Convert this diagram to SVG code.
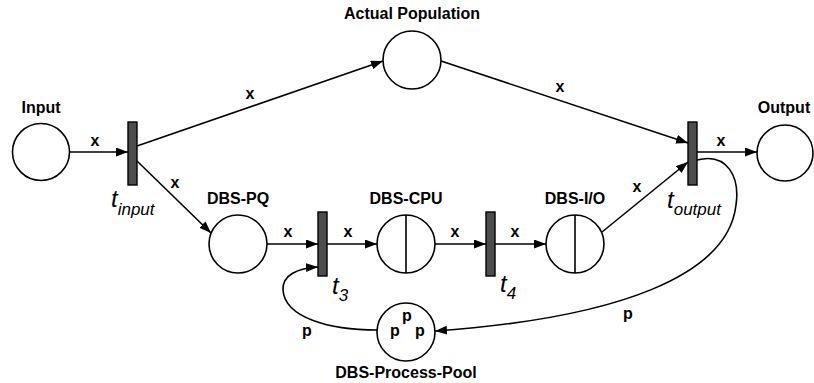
<svg xmlns="http://www.w3.org/2000/svg" width="814" height="383" viewBox="0 0 814 383">
  <style>
    .place { fill: #ffffff; stroke: #000000; stroke-width: 1.6; }
    .split { stroke: #000000; stroke-width: 1.6; }
    .trans { fill: #4d4d4d; stroke: #000000; stroke-width: 1.4; }
    .arc { fill: none; stroke: #000000; stroke-width: 1.6; marker-end: url(#head); }
    .name, .lbl, .tok { font-family: "Liberation Sans", Arial, sans-serif; font-weight: bold; font-size: 16px; text-anchor: middle; fill: #000000; }
    .tl { font-family: "Liberation Sans", Arial, sans-serif; font-style: italic; font-size: 24px; fill: #000000; }
    .sub { font-size: 17px; }
  </style>
  <defs>
    <marker id="head" markerUnits="userSpaceOnUse" markerWidth="13" markerHeight="10" refX="12" refY="4.5" orient="auto">
      <path d="M0,0 L12,4.5 L0,9 z" fill="#000000"/>
    </marker>
  </defs>

  <!-- arcs of the net -->
  <g id="connectors">
    <line class="arc" x1="70" y1="152" x2="128" y2="152"/>
    <line class="arc" x1="137" y1="146" x2="383" y2="61"/>
    <line class="arc" x1="441" y1="61" x2="688" y2="143"/>
    <line class="arc" x1="137" y1="161" x2="211" y2="233"/>
    <line class="arc" x1="267" y1="244" x2="318" y2="244"/>
    <line class="arc" x1="327" y1="244" x2="377" y2="244"/>
    <line class="arc" x1="435" y1="244" x2="486" y2="244"/>
    <line class="arc" x1="495" y1="244" x2="546" y2="244"/>
    <line class="arc" x1="602" y1="232" x2="688" y2="162"/>
    <line class="arc" x1="697" y1="152" x2="757" y2="152"/>
    <path class="arc" d="M377,330 C330,330 285,318 283,290 C282,275 298,268 318,267"/>
    <path class="arc" d="M697,160 C728,152 740,178 736,205 C728,275 620,318 435,331"/>

    <text class="lbl" x="95" y="146">x</text>
    <text class="lbl" x="250" y="99">x</text>
    <text class="lbl" x="560" y="92">x</text>
    <text class="lbl" x="175" y="188">x</text>
    <text class="lbl" x="288" y="237">x</text>
    <text class="lbl" x="348" y="237">x</text>
    <text class="lbl" x="455" y="237">x</text>
    <text class="lbl" x="515" y="237">x</text>
    <text class="lbl" x="637" y="192">x</text>
    <text class="lbl" x="721" y="146">x</text>
    <text class="lbl" x="307" y="336">p</text>
    <text class="lbl" x="628" y="319">p</text>
  </g>

  <!-- places -->
  <g id="input">
    <circle class="place" cx="41" cy="152" r="28.5"/>
    <text class="name" x="41" y="113">Input</text>
  </g>
  <g id="actual-population">
    <circle class="place" cx="412" cy="60" r="29"/>
    <text class="name" x="412" y="19">Actual Population</text>
  </g>
  <g id="output">
    <circle class="place" cx="785" cy="153" r="28"/>
    <text class="name" x="784" y="113">Output</text>
  </g>
  <g id="dbs-pq">
    <circle class="place" cx="238" cy="244" r="29"/>
    <text class="name" x="238" y="204">DBS-PQ</text>
  </g>
  <g id="dbs-cpu">
    <circle class="place" cx="406" cy="244" r="29"/>
    <line class="split" x1="406" y1="215" x2="406" y2="273"/>
    <text class="name" x="406" y="204">DBS-CPU</text>
  </g>
  <g id="dbs-io">
    <circle class="place" cx="575" cy="244" r="29"/>
    <line class="split" x1="575" y1="215" x2="575" y2="273"/>
    <text class="name" x="575" y="204">DBS-I/O</text>
  </g>
  <g id="dbs-process-pool">
    <circle class="place" cx="406" cy="332" r="29"/>
    <text class="tok" x="407" y="321">p</text>
    <text class="tok" x="395" y="336">p</text>
    <text class="tok" x="420" y="336">p</text>
    <text class="name" x="406" y="378">DBS-Process-Pool</text>
  </g>

  <!-- transitions -->
  <g id="t-input">
    <rect class="trans" x="128" y="122" width="9" height="63"/>
    <text class="tl" x="111" y="207">t<tspan class="sub" dy="8">input</tspan></text>
  </g>
  <g id="t3">
    <rect class="trans" x="318" y="212" width="9" height="64"/>
    <text class="tl" x="332" y="294">t<tspan class="sub" dy="7">3</tspan></text>
  </g>
  <g id="t4">
    <rect class="trans" x="486" y="212" width="9" height="64"/>
    <text class="tl" x="500" y="292">t<tspan class="sub" dy="7">4</tspan></text>
  </g>
  <g id="t-output">
    <rect class="trans" x="688" y="122" width="9" height="63"/>
    <text class="tl" x="667" y="208">t<tspan class="sub" dy="7">output</tspan></text>
  </g>
</svg>
